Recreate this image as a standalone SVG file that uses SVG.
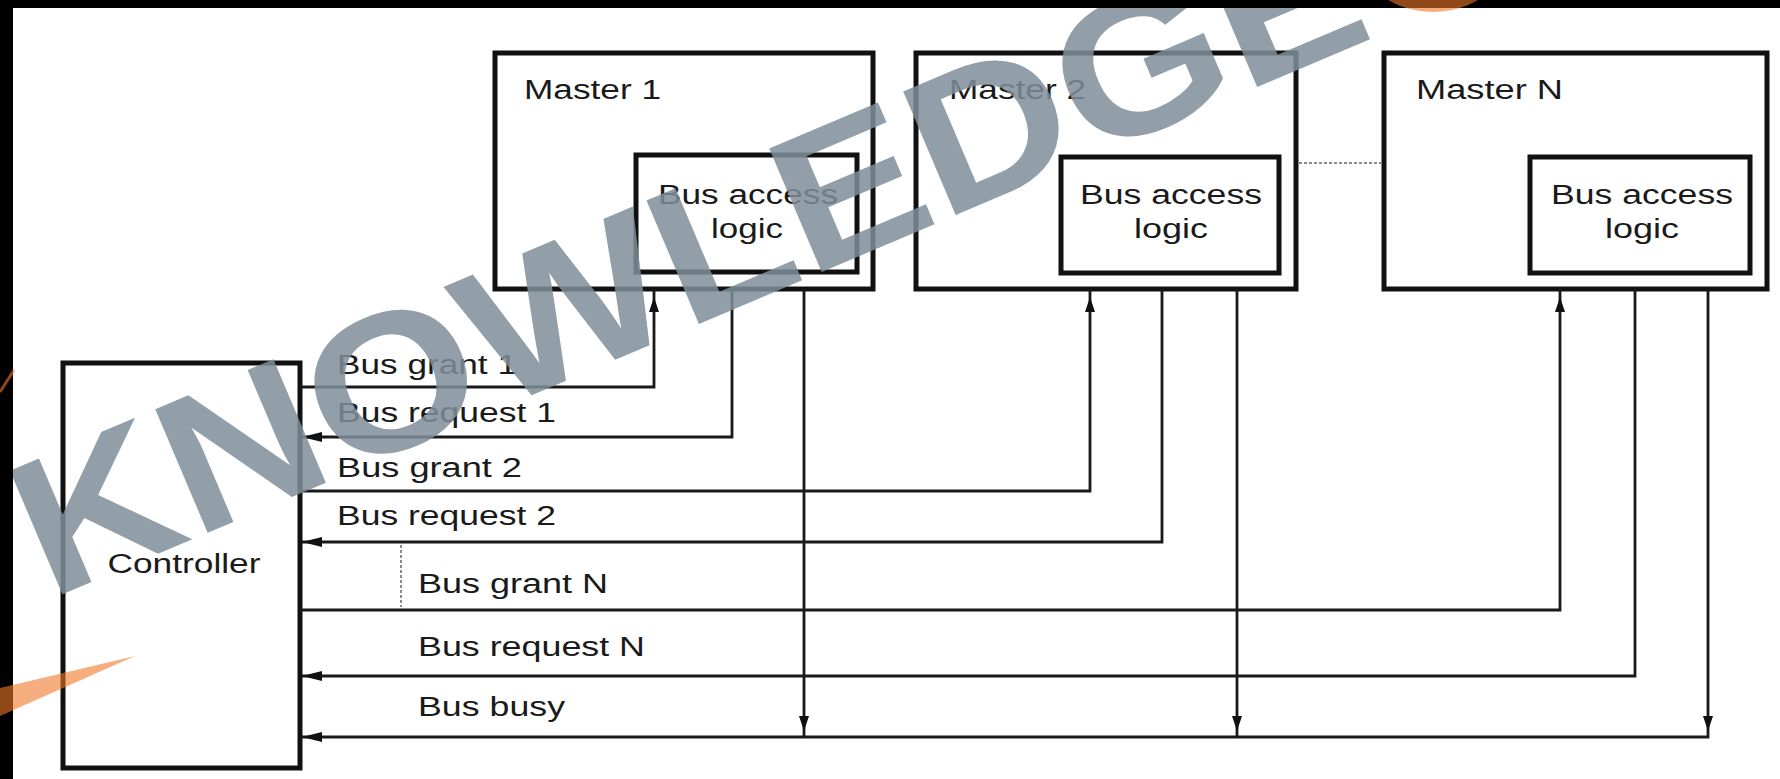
<svg xmlns="http://www.w3.org/2000/svg" xmlns:xlink="http://www.w3.org/1999/xlink" width="1780" height="779" viewBox="0 0 1780 779">
<style>
.box{fill:none;stroke:#111;stroke-width:5}
.ln{fill:none;stroke:#1a1a1a;stroke-width:2.8}
.dot{fill:none;stroke:#666;stroke-width:1.5;stroke-dasharray:3 2}
.t{font-family:"Liberation Sans",Arial,sans-serif;font-size:27px;fill:#1a1a1a}
.c{text-anchor:middle}
.wm{font-family:"Liberation Sans",Arial,sans-serif;font-weight:bold;font-size:195px;fill:#7f8f99;opacity:0.85}
</style>
<defs>
<path id="aL" d="M0,0 L20,-5 L20,5 Z" fill="#111"/>
<path id="aU" d="M0,0 L-5,15 L5,15 Z" fill="#111"/>
<path id="aD" d="M0,0 L-5,-15 L5,-15 Z" fill="#111"/>
</defs>
<rect x="0" y="0" width="1780" height="779" fill="#fff"/>

<g id="master1">
<rect class="box" x="495" y="53" width="378" height="236"/>
<text class="t" x="524" y="99" textLength="137" lengthAdjust="spacingAndGlyphs">Master 1</text>
<rect class="box" x="636" y="155" width="221" height="117"/>
<text class="t c" x="748" y="204" textLength="180" lengthAdjust="spacingAndGlyphs">Bus access</text>
<text class="t c" x="747" y="238" textLength="72" lengthAdjust="spacingAndGlyphs">logic</text>
</g>
<g id="master2">
<rect class="box" x="916" y="53" width="380" height="236"/>
<text class="t" x="949" y="99" textLength="137" lengthAdjust="spacingAndGlyphs">Master 2</text>
<rect class="box" x="1061" y="157" width="218" height="116"/>
<text class="t c" x="1171" y="204" textLength="182" lengthAdjust="spacingAndGlyphs">Bus access</text>
<text class="t c" x="1171" y="238" textLength="74" lengthAdjust="spacingAndGlyphs">logic</text>
</g>
<g id="masterN">
<rect class="box" x="1384" y="53" width="383" height="236"/>
<text class="t" x="1416" y="99" textLength="147" lengthAdjust="spacingAndGlyphs">Master N</text>
<rect class="box" x="1530" y="157" width="220" height="116"/>
<text class="t c" x="1642" y="204" textLength="182" lengthAdjust="spacingAndGlyphs">Bus access</text>
<text class="t c" x="1642" y="238" textLength="74" lengthAdjust="spacingAndGlyphs">logic</text>
</g>
<g id="controller">
<rect class="box" x="63" y="363" width="237" height="405"/>
<text class="t c" x="184" y="573" textLength="153" lengthAdjust="spacingAndGlyphs">Controller</text>
</g>

<g id="connectors">
<path class="dot" d="M1299,163 H1381"/>
<path class="dot" d="M401,545 V607"/>
<path class="ln" d="M300,387 H654 V289"/>
<path class="ln" d="M732,289 V437 H302"/>
<path class="ln" d="M300,491 H1090 V289"/>
<path class="ln" d="M1162,289 V542 H302"/>
<path class="ln" d="M300,610 H1560 V289"/>
<path class="ln" d="M1635,289 V676 H302"/>
<path class="ln" d="M1708,289 V737 H302"/>
<path class="ln" d="M804,289 V737"/>
<path class="ln" d="M1237,289 V737"/>
<use xlink:href="#aU" x="654" y="297"/>
<use xlink:href="#aU" x="1090" y="297"/>
<use xlink:href="#aU" x="1560" y="297"/>
<use xlink:href="#aL" x="302" y="437"/>
<use xlink:href="#aL" x="302" y="542"/>
<use xlink:href="#aL" x="302" y="676"/>
<use xlink:href="#aL" x="302" y="737"/>
<use xlink:href="#aD" x="804" y="731"/>
<use xlink:href="#aD" x="1237" y="731"/>
<use xlink:href="#aD" x="1708" y="731"/>
<text class="t" x="337" y="374" textLength="180" lengthAdjust="spacingAndGlyphs">Bus grant 1</text>
<text class="t" x="337" y="422" textLength="219" lengthAdjust="spacingAndGlyphs">Bus request 1</text>
<text class="t" x="337" y="477" textLength="185" lengthAdjust="spacingAndGlyphs">Bus grant 2</text>
<text class="t" x="337" y="525" textLength="219" lengthAdjust="spacingAndGlyphs">Bus request 2</text>
<text class="t" x="418" y="593" textLength="190" lengthAdjust="spacingAndGlyphs">Bus grant N</text>
<text class="t" x="418" y="656" textLength="227" lengthAdjust="spacingAndGlyphs">Bus request N</text>
<text class="t" x="418" y="716" textLength="147" lengthAdjust="spacingAndGlyphs">Bus busy</text>
</g>

<g id="watermark">
<text class="wm" transform="translate(49,600) rotate(-23) scale(1.12,1)">KNOWLEDGE</text>
<rect x="0" y="0" width="1780" height="8" fill="#000"/>
<rect x="0" y="0" width="13" height="779" fill="#000"/>
<circle cx="1433" cy="-78" r="90" fill="#f07828" opacity="0.6"/>
<polygon points="135,656 0,688 0,716" fill="#f07828" opacity="0.6"/>
<path d="M0,392 L14,370" stroke="#f07828" stroke-width="3" opacity="0.6"/>
</g>
</svg>
